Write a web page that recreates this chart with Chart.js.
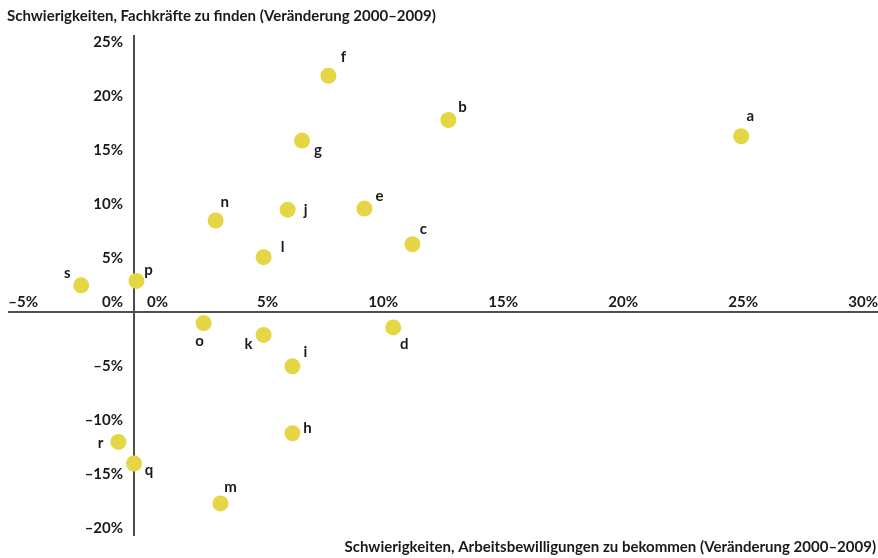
<!DOCTYPE html>
<html>
<head>
<meta charset="utf-8">
<script src="https://cdn.jsdelivr.net/npm/chart.js@4.4.1/dist/chart.umd.min.js"></script>
<style>
  html, body { margin: 0; padding: 0; background: #fff; }
  #chart { display: block; }
</style>
</head>
<body>
<canvas id="chart" width="878" height="558"></canvas>
<script>
// data (percent change 2000-2009)
const pointNames = ["a", "b", "c", "d", "e", "f", "g", "h", "i", "j", "k", "l", "m", "n", "o", "p", "q", "r", "s"];
const xValues = [25.3, 13.1, 11.6, 10.8, 9.6, 8.1, 7.0, 6.6, 6.6, 6.4, 5.4, 5.4, 3.6, 3.4, 2.9, 0.1, 0.0, -0.65, -2.2];
const yValues = [16.3, 17.8, 6.3, -1.4, 9.6, 21.9, 15.9, -11.2, -5.0, 9.5, -2.1, 5.1, -17.7, 8.5, -1.0, 2.9, -14.0, -12.0, 2.5];

const xTicks = [-5, 0, 5, 10, 15, 20, 25, 30];
const xTickLabels = ["\u20135%", "0%", "5%", "10%", "15%", "20%", "25%", "30%"];
const yTicks = [-20, -15, -10, -5, 0, 5, 10, 15, 20, 25];
const yTickLabels = ["\u201320%", "\u201315%", "\u201310%", "\u20135%", "0%", "5%", "10%", "15%", "20%", "25%"];

const xTitle = "Schwierigkeiten, Arbeitsbewilligungen zu bekommen (Ver\u00e4nderung 2000\u20132009)";
const yTitle = "Schwierigkeiten, Fachkr\u00e4fte zu finden (Ver\u00e4nderung 2000\u20132009)";

// where each letter sits relative to its dot (px)
const labelOffsets = {
    a: [9, -20], b: [14, -13], c: [11, -15], d: [11, 17], e: [15, -12],
    f: [15, -19], g: [16, 10], h: [15, -5], i: [13, -14], j: [18, 0],
    k: [-15, 9], l: [19, -10], m: [10, -16], n: [9, -18], o: [-4, 18],
    p: [12, -11], q: [15, 7], r: [-18, 1], s: [-14, -12]
};

const FONT = 'bold 15px Lato, "Open Sans", sans-serif';
const TEXT = "#1a1a1a";

// draws tick labels, dot letters and the two axis titles
const labelPlugin = {
    id: "labelPlugin",
    afterDraw(chart) {
        const ctx = chart.ctx;
        const xs = chart.scales.x;
        const ys = chart.scales.y;
        const x0 = xs.getPixelForValue(0);
        const y0 = ys.getPixelForValue(0);

        ctx.save();
        ctx.fillStyle = TEXT;
        ctx.font = FONT;
        ctx.textBaseline = "middle";

        // x tick labels sit above the horizontal axis
        ctx.textAlign = "right";
        xTicks.forEach((v, i) => {
            const shift = v === 0 ? 34 : 24;
            ctx.fillText(xTickLabels[i], xs.getPixelForValue(v) + shift, y0 - 10);
        });

        // y tick labels left of the vertical axis
        yTicks.forEach((v, i) => {
            const py = v === 0 ? y0 - 10 : ys.getPixelForValue(v);
            ctx.fillText(yTickLabels[i], x0 - 11, py);
        });

        // letters next to the dots
        ctx.textAlign = "center";
        const meta = chart.getDatasetMeta(0);
        meta.data.forEach((pt, i) => {
            const name = pointNames[i];
            const off = labelOffsets[name];
            ctx.fillText(name, pt.x + off[0], pt.y + off[1]);
        });

        // axis titles
        ctx.textAlign = "left";
        ctx.fillText(yTitle, 7, 16);
        ctx.textAlign = "right";
        ctx.fillText(xTitle, 876, 547);

        ctx.restore();
    }
};

const ctx = document.getElementById("chart");

const chart = new Chart(ctx, {
    type: "scatter",
    data: {
        datasets: [
            {
                label: "Länder",
                data: xValues.map((x, i) => ({ x: x, y: yValues[i] })),
                backgroundColor: "#e4d644",
                borderWidth: 0,
                pointRadius: 8,
                pointHoverRadius: 8,
            },
        ],
    },
    options: {
        responsive: false,
        animation: false,
        layout: {
            autoPadding: false,
            padding: { left: 9, right: 0, top: 36, bottom: 23 },
        },
        plugins: {
            legend: { display: false },
            tooltip: { enabled: false },
        },
        scales: {
            x: {
                type: "linear",
                min: -5.21,
                max: 31.0,
                position: { y: 0 },
                grid: { display: false, drawTicks: false },
                border: { display: true, color: "#4d4d4d", width: 2 },
                ticks: { display: false },
            },
            y: {
                type: "linear",
                min: -20.62,
                max: 25.58,
                position: { x: 0 },
                grid: { display: false, drawTicks: false },
                border: { display: true, color: "#4d4d4d", width: 2 },
                ticks: { display: false },
            },
        },
    },
    plugins: [labelPlugin],
});
</script>
</body>
</html>
